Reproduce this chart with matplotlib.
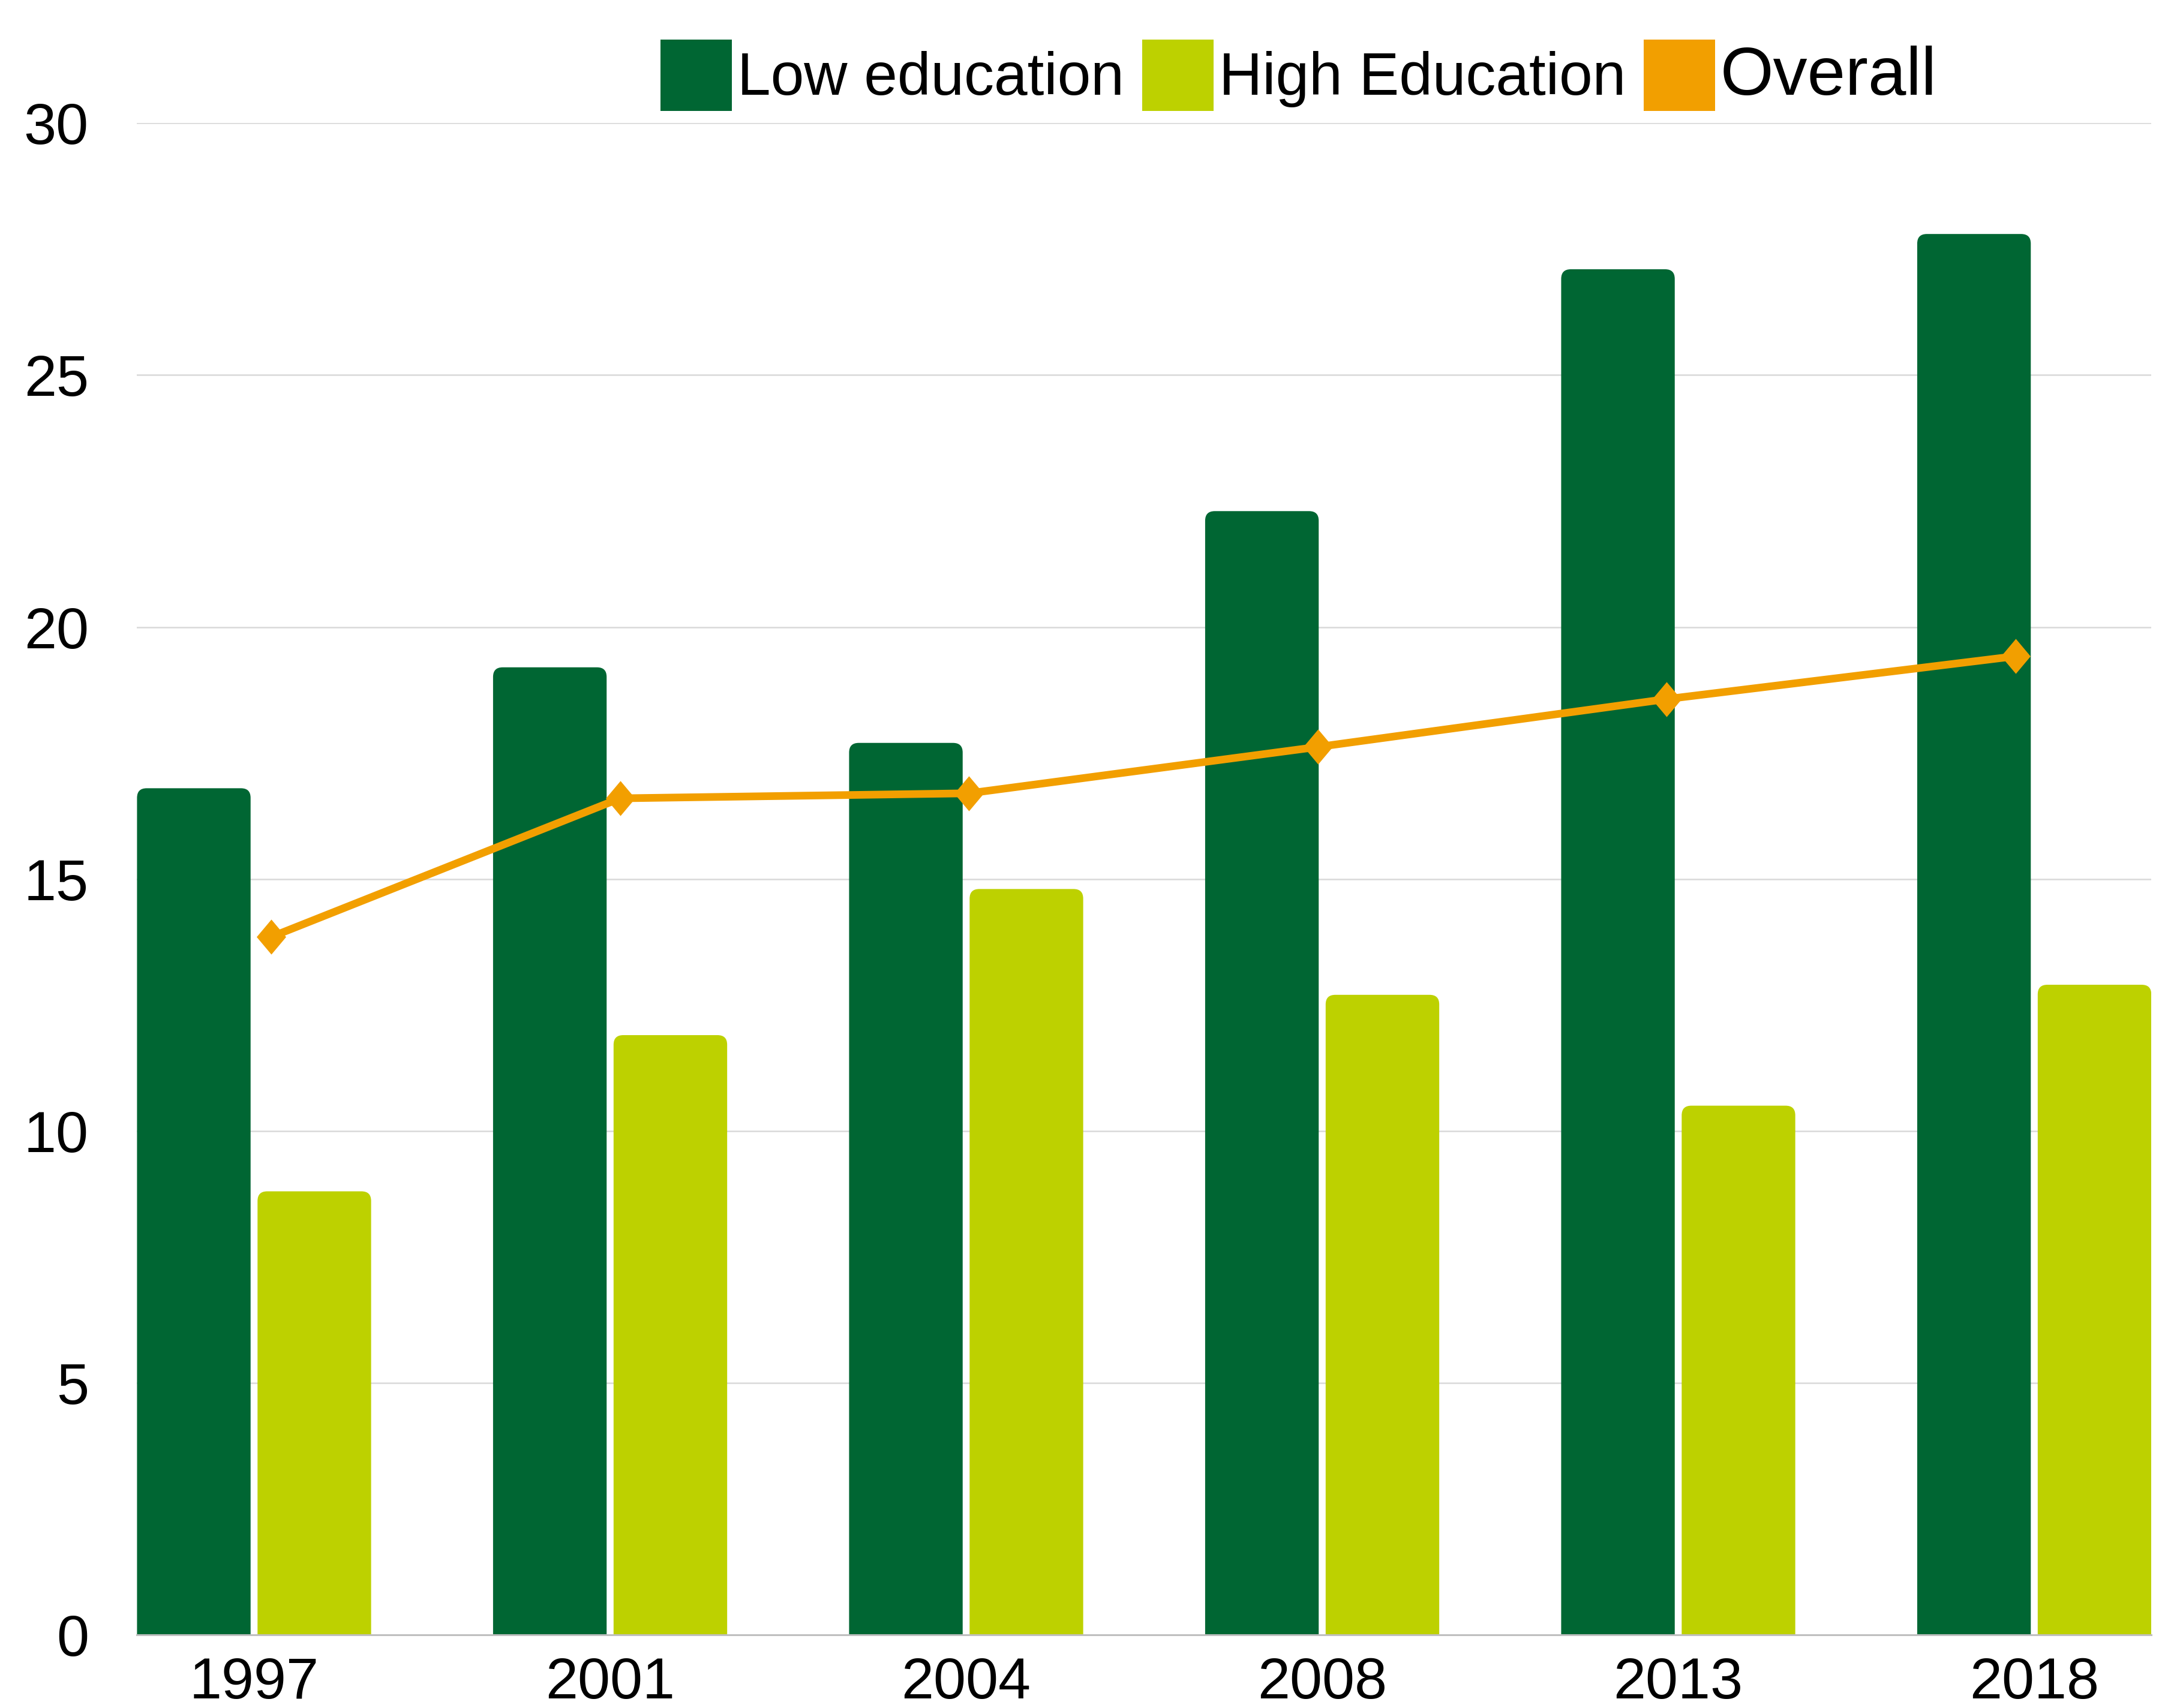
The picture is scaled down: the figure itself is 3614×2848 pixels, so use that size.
import matplotlib
matplotlib.use("Agg")
import matplotlib.pyplot as plt
from matplotlib.patches import Patch, FancyBboxPatch
from matplotlib.path import Path
import numpy as np

plt.rcParams['font.family'] = ['Liberation Sans', 'DejaVu Sans']

years = ["1997", "2001", "2004", "2008", "2013", "2018"]
low_education = [16.8, 19.2, 17.7, 22.3, 27.1, 27.8]
high_education = [8.8, 11.9, 14.8, 12.7, 10.5, 12.9]
overall = [13.85, 16.6, 16.7, 17.62, 18.57, 19.42]
yticks = [0, 5, 10, 15, 20, 25, 30]

c_low = "#006633"
c_high = "#bdd100"
c_all = "#f29f00"

W, H, DPI = 3614, 2848, 200
fig = plt.figure(figsize=(W / DPI, H / DPI), dpi=DPI)
ax = fig.add_axes([0.0632, 0.0429, 0.9291, 0.8850])

x = np.arange(len(years))
bw = 0.319
gap = 0.0195
off = (bw + gap) / 2

ax.set_xlim(-(off + bw / 2), len(years) - 1 + off + bw / 2)
ax.set_ylim(0, 30)

bars_low = ax.bar(x - off, low_education, bw, color=c_low, zorder=2)
bars_high = ax.bar(x + off, high_education, bw, color=c_high, zorder=2)

# rounded top corners
fig.canvas.draw()
p0 = ax.transData.transform((0, 0))
p1 = ax.transData.transform((1, 1))
px_per_x = abs(p1[0] - p0[0])
px_per_y = abs(p1[1] - p0[1])
aspect = px_per_x / px_per_y
r_px = 16
r_x = r_px / px_per_x
for bars in (bars_low, bars_high):
    for b in bars:
        b.set_visible(False)
        fb = FancyBboxPatch((b.get_x(), -1.0), b.get_width(), b.get_height() + 1.0,
                            boxstyle=f"round,pad=0,rounding_size={r_x}",
                            mutation_aspect=aspect,
                            facecolor=b.get_facecolor(), edgecolor="none",
                            zorder=2, clip_on=True)
        ax.add_patch(fb)

ax.set_yticks(yticks)
ax.set_xticks(x)
ax.set_xticklabels(years)
ax.tick_params(axis='y', length=0, pad=29, labelsize=35)
ax.tick_params(axis='x', length=0, pad=13, labelsize=35)
ax.grid(axis='y', color="#d9d9d9", linewidth=0.9, zorder=0)
ax.set_axisbelow(True)
for s in ["left", "right", "top"]:
    ax.spines[s].set_visible(False)
ax.spines["bottom"].set_color("#bfbfbf")
ax.spines["bottom"].set_linewidth(1.1)
ax.spines["bottom"].set_zorder(3)

# secondary category axis for the line series
ax2 = ax.twiny()
ax2.set_xlim(-0.385, len(years) - 1 + 0.389)
ax2.set_ylim(0, 30)
ax2.set_xticks([])
for s in ax2.spines.values():
    s.set_visible(False)
diamond = Path([(0, 1), (0.84, 0), (0, -1), (-0.84, 0), (0, 1)],
               [Path.MOVETO, Path.LINETO, Path.LINETO, Path.LINETO, Path.CLOSEPOLY])
ax2.plot(x, overall, color=c_all, linewidth=4.6, marker=diamond,
         markersize=21, markeredgewidth=0, markerfacecolor=c_all, zorder=4,
         solid_joinstyle='miter')

handles = [Patch(facecolor=c_low, edgecolor="none"),
           Patch(facecolor=c_high, edgecolor="none"),
           Patch(facecolor=c_all, edgecolor="none")]
leg = fig.legend(handles, ["Low education", "High Education", "Overall"],
                 loc="center", bbox_to_anchor=(0.599, 0.956), ncol=3,
                 frameon=False, fontsize=36, handlelength=1.19,
                 handleheight=1.45, handletextpad=0.09, columnspacing=0.3,
                 borderpad=0, borderaxespad=0)
leg.get_texts()[2].set_fontsize(41)

fig.savefig("out.png", dpi=DPI, facecolor="white")
